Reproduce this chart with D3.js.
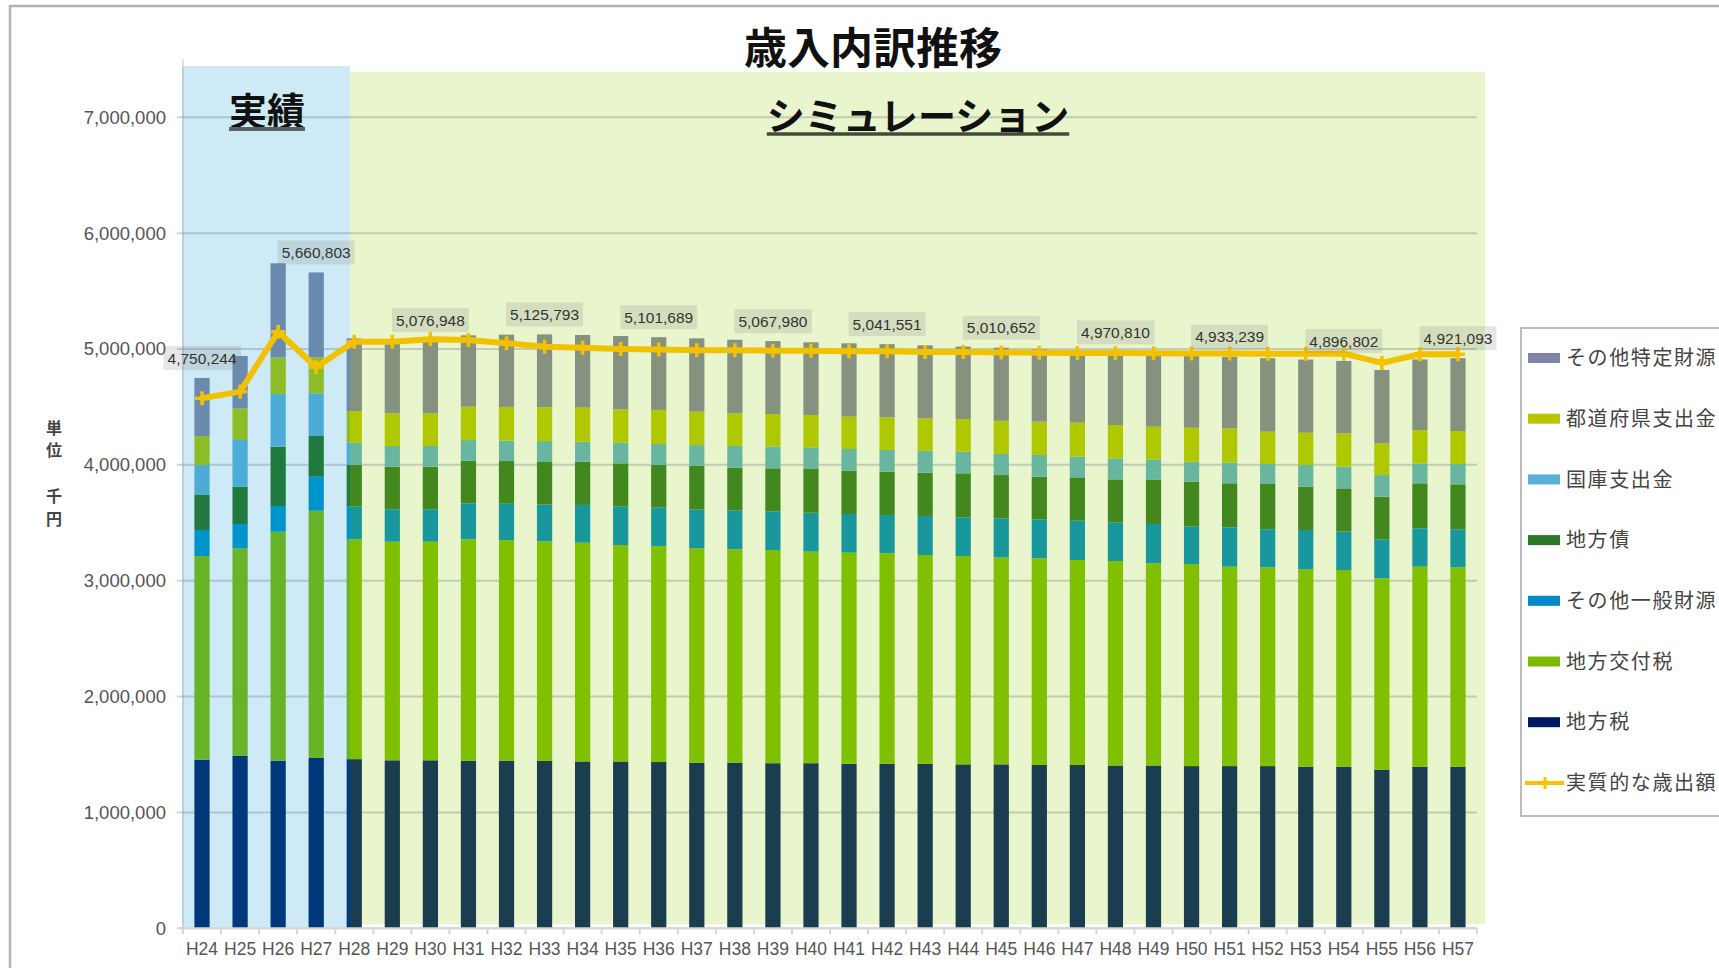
<!DOCTYPE html>
<html>
<head>
<meta charset="utf-8">
<script src="https://cdn.jsdelivr.net/npm/d3@7"></script>
<style>
  body { margin: 0; background: #fff; }
  svg { display: block; }
</style>
</head>
<body>
<svg id="chart" width="1719" height="968"></svg>
<script>
// Categories (fiscal years)
const years = ["H24", "H25", "H26", "H27", "H28", "H29", "H30", "H31", "H32", "H33", "H34",
  "H35", "H36", "H37", "H38", "H39", "H40", "H41", "H42", "H43", "H44", "H45", "H46",
  "H47", "H48", "H49", "H50", "H51", "H52", "H53", "H54", "H55", "H56", "H57"];

// Stacked series, unit 千円 (bottom to top)
const chihozei = [1455000, 1490000, 1447000, 1470000, 1460000, 1450000, 1450000, 1445000, 1445000, 1445000, 1440000,
  1440000, 1435000, 1430000, 1430000, 1425000, 1425000, 1420000, 1420000, 1420000, 1415000, 1415000, 1410000,
  1410000, 1405000, 1405000, 1400000, 1400000, 1400000, 1395000, 1395000, 1370000, 1395000, 1395000];
const kofuzei = [1758000, 1790000, 1976000, 2134000, 1897000, 1887000, 1887000, 1912000, 1905000, 1895000, 1888000,
  1868000, 1865000, 1850000, 1841000, 1840000, 1826000, 1822000, 1817000, 1802000, 1798000, 1785000, 1783000,
  1769000, 1765000, 1745000, 1744000, 1721000, 1715000, 1703000, 1697000, 1651000, 1726000, 1720000];
const ippanZaigen = [225000, 210000, 222000, 294000, 282000, 280000, 280000, 311000, 314000, 320000, 326000,
  331000, 334000, 336000, 334000, 331000, 336000, 334000, 330000, 337000, 334000, 339000, 337000,
  339000, 331000, 340000, 323000, 340000, 329000, 340000, 332000, 337000, 332000, 329000];
const chihosai = [302000, 322000, 512000, 351000, 360000, 367000, 367000, 368000, 369000, 370000, 373000,
  374000, 365000, 377000, 371000, 374000, 377000, 374000, 374000, 373000, 380000, 373000, 368000,
  374000, 374000, 380000, 388000, 380000, 391000, 374000, 373000, 367000, 388000, 388000];
const kokko = [259000, 402000, 455000, 369000, 192000, 179000, 179000, 178000, 177000, 175000, 173000,
  178000, 181000, 178000, 187000, 187000, 187000, 187000, 188000, 190000, 187000, 182000, 187000,
  179000, 181000, 177000, 172000, 178000, 172000, 187000, 187000, 187000, 172000, 175000];
const todofuken = [250000, 274000, 316000, 310000, 274000, 282000, 282000, 288000, 290000, 292000, 294000,
  288000, 294000, 288000, 282000, 282000, 279000, 279000, 281000, 280000, 282000, 286000, 288000,
  293000, 288000, 282000, 293000, 296000, 279000, 278000, 288000, 273000, 288000, 285000];
const tokuteiZaigen = [501000, 452000, 812000, 733000, 627000, 615000, 632000, 616000, 624000, 629000, 627000,
  633000, 628000, 633000, 635000, 629000, 628000, 633000, 632000, 630000, 625000, 631000, 625000,
  621000, 627000, 629000, 626000, 618000, 635000, 632000, 625000, 634000, 609000, 629000];

// Line series: 実質的な歳出額
const jisshitsuSaishutsu = [4575000, 4632000, 5149000, 4842000, 5063000, 5063000, 5084000, 5078000, 5050000, 5020000, 5010000,
  5000000, 4995000, 4990000, 4990000, 4985000, 4985000, 4980000, 4980000, 4975000, 4975000, 4970000, 4968000,
  4966000, 4965000, 4963000, 4962000, 4962000, 4960000, 4960000, 4960000, 4880000, 4955000, 4955000];

// Total labels shown above some bars
const labelYears = ["H24", "H27", "H30", "H33", "H36", "H39", "H42", "H45", "H48", "H51", "H54", "H57"];
const labelValues = [4750244, 5660803, 5076948, 5125793, 5101689, 5067980, 5041551, 5010652, 4970810, 4933239, 4896802, 4921093];

const yTicks = [0, 1000000, 2000000, 3000000, 4000000, 5000000, 6000000, 7000000];

const seriesNames = ["地方税", "地方交付税", "その他一般財源", "地方債", "国庫支出金", "都道府県支出金", "その他特定財源"];
const seriesValues = [chihozei, kofuzei, ippanZaigen, chihosai, kokko, todofuken, tokuteiZaigen];
const lineName = "実質的な歳出額";

const legendColors = ["#001860", "#7cba00", "#0088c8", "#287828", "#5ab0d6", "#b8c400", "#8084a8"];
const actualColors = ["#00387c", "#68b428", "#0094cc", "#207a40", "#4cacd6", "#8cbc28", "#6a8ab0"];
const simColors = ["#1a3e50", "#80c000", "#18989c", "#42881e", "#68b6a0", "#b0c800", "#869280"];
const lineColor = "#f2c200";

const jpFont = "'Noto Sans CJK JP', 'Noto Sans', sans-serif";
const numFont = "'Liberation Sans', Arial, sans-serif";

const svg = d3.select("#chart");

// table for d3.stack
const table = years.map((yr, i) => {
  const row = { year: yr };
  seriesNames.forEach((n, k) => (row[n] = seriesValues[k][i]));
  return row;
});
const stacked = d3.stack().keys(seriesNames)(table);
const totals = table.map(r => d3.sum(seriesNames, n => r[n]));

const x = d3.scaleBand().domain(years).range([183, 1477]).paddingInner(0.6).paddingOuter(0.3);
const y = d3.scaleLinear().domain([0, 7500000]).range([928.3, 59.35]);
const cx = d => x(d) + x.bandwidth() / 2;

// outer frame
svg.append("rect")
  .attr("x", 10).attr("y", 6).attr("width", 1760).attr("height", 1000)
  .attr("fill", "none").attr("stroke", "#b4b4b4").attr("stroke-width", 2.5);

// period backgrounds
const actualBox = { x: 182, y: 66, w: 168, h: 861 };
const simBox = { x: 350, y: 72, w: 1135, h: 852 };

svg.append("rect")
  .attr("x", actualBox.x).attr("y", actualBox.y).attr("width", actualBox.w).attr("height", actualBox.h)
  .attr("fill", "#cdeaf6");
svg.append("rect")
  .attr("x", simBox.x).attr("y", simBox.y).attr("width", simBox.w).attr("height", simBox.h)
  .attr("fill", "#e9f5cd");

const defs = svg.append("defs");
defs.append("clipPath").attr("id", "clipActual")
  .append("rect").attr("x", actualBox.x).attr("y", actualBox.y).attr("width", actualBox.w).attr("height", actualBox.h + 2);
defs.append("clipPath").attr("id", "clipSim")
  .append("rect").attr("x", simBox.x).attr("y", simBox.y).attr("width", simBox.w).attr("height", simBox.h + 5);

// gridlines
svg.append("g")
  .selectAll("line")
  .data(yTicks)
  .join("line")
  .attr("x1", 177).attr("x2", 1477)
  .attr("y1", d => y(d)).attr("y2", d => y(d))
  .attr("stroke", "rgba(90,100,100,0.28)")
  .attr("stroke-width", 2);

// y axis line
svg.append("line")
  .attr("x1", 183).attr("x2", 183).attr("y1", y(7500000)).attr("y2", y(0))
  .attr("stroke", "rgba(120,120,120,0.22)").attr("stroke-width", 2);

// y tick labels
svg.append("g")
  .selectAll("text")
  .data(yTicks)
  .join("text")
  .attr("x", 166)
  .attr("y", d => y(d))
  .attr("dy", "0.35em")
  .attr("text-anchor", "end")
  .attr("font-family", numFont)
  .attr("font-size", 18.5)
  .attr("fill", "#555")
  .text(d => d3.format(",")(d));

// stacked bars, drawn once per period with its own palette
function drawBars(clipId, palette) {
  svg.append("g")
    .attr("clip-path", `url(#${clipId})`)
    .selectAll("g")
    .data(stacked)
    .join("g")
    .attr("fill", (d, i) => palette[i])
    .selectAll("rect")
    .data(d => d)
    .join("rect")
    .attr("x", d => x(d.data.year))
    .attr("width", x.bandwidth())
    .attr("y", d => y(d[1]))
    .attr("height", d => y(d[0]) - y(d[1]));
}
drawBars("clipActual", actualColors);
drawBars("clipSim", simColors);

// x axis line and ticks
svg.append("line")
  .attr("x1", 180).attr("x2", 1477).attr("y1", y(0)).attr("y2", y(0))
  .attr("stroke", "#d6d6d6").attr("stroke-width", 2);

const gap = (x.step() - x.bandwidth()) / 2;
svg.append("g")
  .selectAll("line")
  .data(years.concat(["end"]))
  .join("line")
  .attr("x1", d => (d === "end" ? x(years[years.length - 1]) + x.bandwidth() + gap : x(d) - gap))
  .attr("x2", d => (d === "end" ? x(years[years.length - 1]) + x.bandwidth() + gap : x(d) - gap))
  .attr("y1", y(0)).attr("y2", y(0) + 6)
  .attr("stroke", "#d6d6d6").attr("stroke-width", 2);

svg.append("g")
  .selectAll("text")
  .data(years)
  .join("text")
  .attr("x", d => cx(d))
  .attr("y", 955)
  .attr("text-anchor", "middle")
  .attr("font-family", numFont)
  .attr("font-size", 17.5)
  .attr("fill", "#555")
  .text(d => d);

// line series
const lineData = years.map((yr, i) => ({ year: yr, value: jisshitsuSaishutsu[i] }));
svg.append("path")
  .datum(lineData)
  .attr("fill", "none")
  .attr("stroke", lineColor)
  .attr("stroke-width", 6)
  .attr("stroke-linejoin", "round")
  .attr("d", d3.line().x(d => cx(d.year)).y(d => y(d.value)));

svg.append("g")
  .selectAll("path")
  .data(lineData)
  .join("path")
  .attr("transform", d => `translate(${cx(d.year)},${y(d.value)})`)
  .attr("d", "M-7,0H7M0,-7V7")
  .attr("stroke", lineColor)
  .attr("stroke-width", 3.5);

// total labels
const labelG = svg.append("g");
labelYears.forEach((yr, k) => {
  const i = years.indexOf(yr);
  const ty = y(totals[i]) - 20;
  const g = labelG.append("g").attr("transform", `translate(${cx(yr)},${ty})`);
  const box = g.append("rect");
  const t = g.append("text")
    .attr("text-anchor", "middle")
    .attr("dy", "0.36em")
    .attr("font-family", numFont)
    .attr("font-size", 15.5)
    .attr("fill", "#333")
    .text(d3.format(",")(labelValues[k]));
  const bb = t.node().getBBox();
  box.attr("x", bb.x - 4).attr("y", -12).attr("width", bb.width + 8).attr("height", 24)
    .attr("fill", "rgba(128,128,128,0.2)");
});

// title
svg.append("text")
  .attr("x", 873).attr("y", 64)
  .attr("text-anchor", "middle")
  .attr("font-family", jpFont)
  .attr("font-weight", "bold")
  .attr("font-size", 43)
  .attr("fill", "#111")
  .text("歳入内訳推移");

// period headings with underline
function heading(text, xc, yb, size, ulColor, ulWidth) {
  const t = svg.append("text")
    .attr("x", xc).attr("y", yb)
    .attr("text-anchor", "middle")
    .attr("font-family", jpFont)
    .attr("font-weight", "bold")
    .attr("font-size", size)
    .attr("fill", "#111")
    .text(text);
  const bb = t.node().getBBox();
  svg.append("line")
    .attr("x1", bb.x).attr("x2", bb.x + bb.width)
    .attr("y1", yb + 4).attr("y2", yb + 4)
    .attr("stroke", ulColor).attr("stroke-width", ulWidth);
}
heading("実績", 267, 125, 38, "#5a6266", 4);
heading("シミュレーション", 918, 130, 38, "#444a38", 3.5);

// unit label (vertical)
const unitChars = ["単", "位", "", "千", "円"];
svg.append("g")
  .selectAll("text")
  .data(unitChars)
  .join("text")
  .attr("x", 54)
  .attr("y", (d, i) => 428 + i * 22.8)
  .attr("dy", "0.35em")
  .attr("text-anchor", "middle")
  .attr("font-family", jpFont)
  .attr("font-weight", "bold")
  .attr("font-size", 16)
  .attr("fill", "#444")
  .text(d => d);

// legend
const legend = svg.append("g").attr("transform", "translate(1521,328)");
legend.append("rect")
  .attr("width", 260).attr("height", 488)
  .attr("fill", "#fff").attr("stroke", "#bdbdbd").attr("stroke-width", 2);

const legendItems = seriesNames.map((n, i) => ({ name: n, color: legendColors[i], type: "bar" })).reverse()
  .concat([{ name: lineName, color: "#ffc000", type: "line" }]);

const item = legend.selectAll("g.item")
  .data(legendItems)
  .join("g")
  .attr("class", "item")
  .attr("transform", (d, i) => `translate(0,${30 + i * 60.7})`);

item.filter(d => d.type === "bar")
  .append("rect")
  .attr("x", 7).attr("y", -5).attr("width", 32).attr("height", 10)
  .attr("fill", d => d.color);

const lineItem = item.filter(d => d.type === "line");
lineItem.append("line")
  .attr("x1", 4).attr("x2", 43).attr("y1", 0).attr("y2", 0)
  .attr("stroke", d => d.color).attr("stroke-width", 4);
lineItem.append("path")
  .attr("d", "M18,0H30M24,-6V6")
  .attr("stroke", d => d.color).attr("stroke-width", 3);

item.append("text")
  .attr("x", 45).attr("dy", "0.36em")
  .attr("font-family", jpFont)
  .attr("font-size", 20)
  .attr("letter-spacing", 1.6)
  .attr("fill", "#444")
  .text(d => d.name);
</script>
</body>
</html>
